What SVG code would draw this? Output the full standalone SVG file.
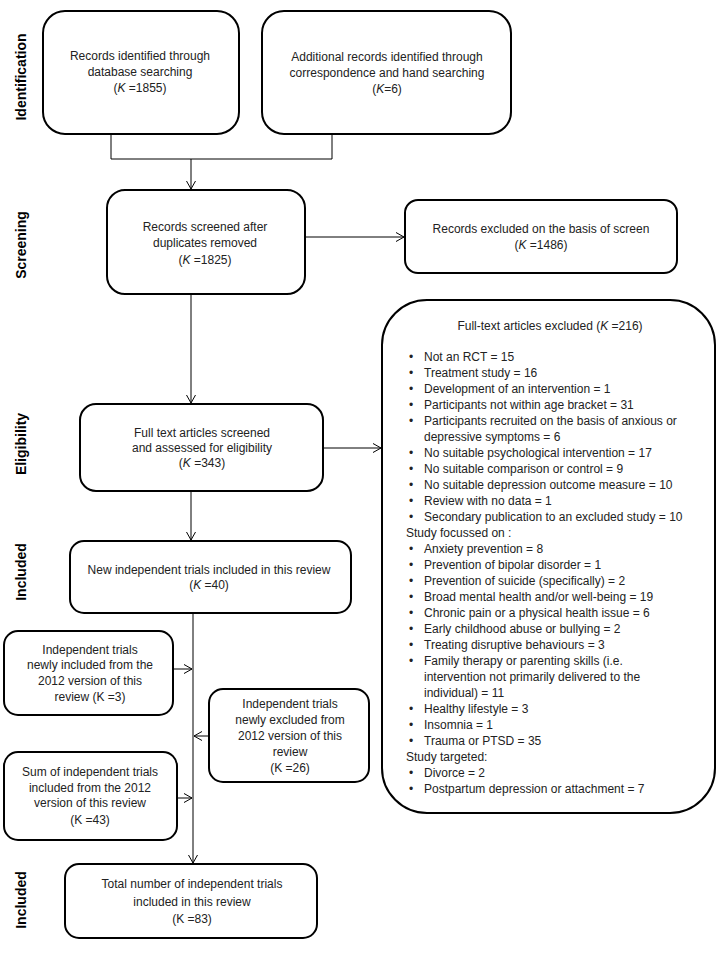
<svg xmlns="http://www.w3.org/2000/svg" width="720" height="960" viewBox="0 0 720 960">
<style>
.box{fill:#fff;stroke:#000;stroke-width:2}
.t{font-family:"Liberation Sans",Arial,sans-serif;font-size:12px;fill:#222}
.c{text-anchor:middle}
.ph{font-family:"Liberation Sans",Arial,sans-serif;font-size:14px;font-weight:bold;fill:#000;text-anchor:middle}
.con{fill:none;stroke:#000;stroke-width:1}
</style>
<defs>
<marker id="ah" markerUnits="userSpaceOnUse" markerWidth="10" markerHeight="10" refX="8" refY="5" orient="auto">
<path d="M0,0.5 L8,5 L0,9.5" fill="none" stroke="#000" stroke-width="1"/>
</marker>
</defs>
<rect width="720" height="960" fill="#fff"/>

<g id="phases">
<text class="ph" transform="translate(26,77) rotate(-90)">Identification</text>
<text class="ph" transform="translate(26,245) rotate(-90)">Screening</text>
<text class="ph" transform="translate(26,444) rotate(-90)">Eligibility</text>
<text class="ph" transform="translate(26,572) rotate(-90)">Included</text>
<text class="ph" transform="translate(26,900) rotate(-90)">Included</text>
</g>

<g id="connectors">
<path class="con" d="M111 134 V159 H332 V134"/>
<path class="con" d="M191 159 V189" marker-end="url(#ah)"/>
<path class="con" d="M305 237 H404" marker-end="url(#ah)"/>
<path class="con" d="M191 294 V403" marker-end="url(#ah)"/>
<path class="con" d="M323 448 H381" marker-end="url(#ah)"/>
<path class="con" d="M191 491 V540" marker-end="url(#ah)"/>
<path class="con" d="M193 613 V863" marker-end="url(#ah)"/>
<path class="con" d="M173 669 H192" marker-end="url(#ah)"/>
<path class="con" d="M209 736 H194" marker-end="url(#ah)"/>
<path class="con" d="M177 798 H192" marker-end="url(#ah)"/>
</g>

<g id="n1">
<rect class="box" x="43" y="11" width="196" height="123" rx="22"/>
<text class="t c" x="140" y="60">Records identified through</text>
<text class="t c" x="140" y="76">database searching</text>
<text class="t c" x="140" y="92">(<tspan font-style="italic">K</tspan> =1855)</text>
</g>

<g id="n2">
<rect class="box" x="262" y="11" width="249" height="123" rx="22"/>
<text class="t c" x="387" y="61">Additional records identified through</text>
<text class="t c" x="387" y="77">correspondence and hand searching</text>
<text class="t c" x="387" y="93">(<tspan font-style="italic">K</tspan>=6)</text>
</g>

<g id="n3">
<rect class="box" x="107" y="190" width="198" height="104" rx="18"/>
<text class="t c" x="205" y="231">Records screened after</text>
<text class="t c" x="205" y="247">duplicates removed</text>
<text class="t c" x="205" y="264">(<tspan font-style="italic">K</tspan> =1825)</text>
</g>

<g id="n4">
<rect class="box" x="405" y="200" width="272" height="73" rx="13"/>
<text class="t c" x="541" y="233">Records excluded on the basis of screen</text>
<text class="t c" x="541" y="249">(<tspan font-style="italic">K</tspan> =1486)</text>
</g>

<g id="n5">
<rect class="box" x="80" y="404" width="243" height="87" rx="16"/>
<text class="t c" x="202" y="437">Full text articles screened</text>
<text class="t c" x="202" y="452">and assessed for eligibility</text>
<text class="t c" x="202" y="467">(<tspan font-style="italic">K</tspan> =343)</text>
</g>

<g id="n6">
<rect class="box" x="382" y="300" width="333" height="513" rx="45"/>
<text class="t c" x="550" y="330">Full-text articles excluded (<tspan font-style="italic">K</tspan> =216)</text>
<g class="t">
<text x="409" y="361">•</text><text x="424" y="361">Not an RCT = 15</text>
<text x="409" y="377">•</text><text x="424" y="377">Treatment  study = 16</text>
<text x="409" y="393">•</text><text x="424" y="393">Development  of an intervention = 1</text>
<text x="409" y="409">•</text><text x="424" y="409">Participants not within age bracket = 31</text>
<text x="409" y="425">•</text><text x="424" y="425">Participants recruited on the basis of anxious or</text>
<text x="424" y="441">depressive symptoms = 6</text>
<text x="409" y="457">•</text><text x="424" y="457">No suitable psychological intervention = 17</text>
<text x="409" y="473">•</text><text x="424" y="473">No suitable comparison or control = 9</text>
<text x="409" y="489">•</text><text x="424" y="489">No suitable depression outcome measure = 10</text>
<text x="409" y="505">•</text><text x="424" y="505">Review with no data = 1</text>
<text x="409" y="521">•</text><text x="424" y="521">Secondary publication to an excluded study = 10</text>
<text x="406" y="537">Study focussed on :</text>
<text x="409" y="553">•</text><text x="424" y="553">Anxiety prevention = 8</text>
<text x="409" y="569">•</text><text x="424" y="569">Prevention of bipolar disorder = 1</text>
<text x="409" y="585">•</text><text x="424" y="585">Prevention of suicide (specifically) = 2</text>
<text x="409" y="601">•</text><text x="424" y="601">Broad mental health and/or well-being = 19</text>
<text x="409" y="617">•</text><text x="424" y="617">Chronic pain or a physical health issue = 6</text>
<text x="409" y="633">•</text><text x="424" y="633">Early childhood abuse or bullying = 2</text>
<text x="409" y="649">•</text><text x="424" y="649">Treating disruptive behaviours = 3</text>
<text x="409" y="665">•</text><text x="424" y="665">Family therapy or parenting skills (i.e.</text>
<text x="424" y="681">intervention not primarily delivered to the</text>
<text x="424" y="697">individual) = 11</text>
<text x="409" y="713">•</text><text x="424" y="713">Healthy lifestyle = 3</text>
<text x="409" y="729">•</text><text x="424" y="729">Insomnia = 1</text>
<text x="409" y="745">•</text><text x="424" y="745">Trauma or PTSD  = 35</text>
<text x="406" y="761">Study targeted:</text>
<text x="409" y="777">•</text><text x="424" y="777">Divorce = 2</text>
<text x="409" y="793">•</text><text x="424" y="793">Postpartum depression or attachment  = 7</text>
</g>
</g>

<g id="n7">
<rect class="box" x="70" y="541" width="281" height="72" rx="14"/>
<text class="t c" x="209" y="574">New  independent trials included in this review</text>
<text class="t c" x="209" y="589">(<tspan font-style="italic">K</tspan> =40)</text>
</g>

<g id="n8">
<rect class="box" x="4" y="631" width="169" height="84" rx="14"/>
<text class="t c" x="90" y="654">Independent  trials</text>
<text class="t c" x="90" y="669">newly included from the</text>
<text class="t c" x="90" y="685">2012 version of this</text>
<text class="t c" x="90" y="701">review (K =3)</text>
</g>

<g id="n9">
<rect class="box" x="209" y="689" width="160" height="93" rx="14"/>
<text class="t c" x="290" y="708">Independent  trials</text>
<text class="t c" x="290" y="724">newly excluded from</text>
<text class="t c" x="290" y="740">2012 version of  this</text>
<text class="t c" x="290" y="756">review</text>
<text class="t c" x="290" y="772">(K =26)</text>
</g>

<g id="n10">
<rect class="box" x="4" y="752" width="173" height="88" rx="14"/>
<text class="t c" x="90" y="776">Sum of independent trials</text>
<text class="t c" x="90" y="792">included from the 2012</text>
<text class="t c" x="90" y="807">version of this review</text>
<text class="t c" x="90" y="824">(K =43)</text>
</g>

<g id="n11">
<rect class="box" x="65" y="864" width="252" height="74" rx="14"/>
<text class="t c" x="192" y="888">Total number of independent  trials</text>
<text class="t c" x="192" y="906">included in this review</text>
<text class="t c" x="192" y="923">(K =83)</text>
</g>
</svg>
